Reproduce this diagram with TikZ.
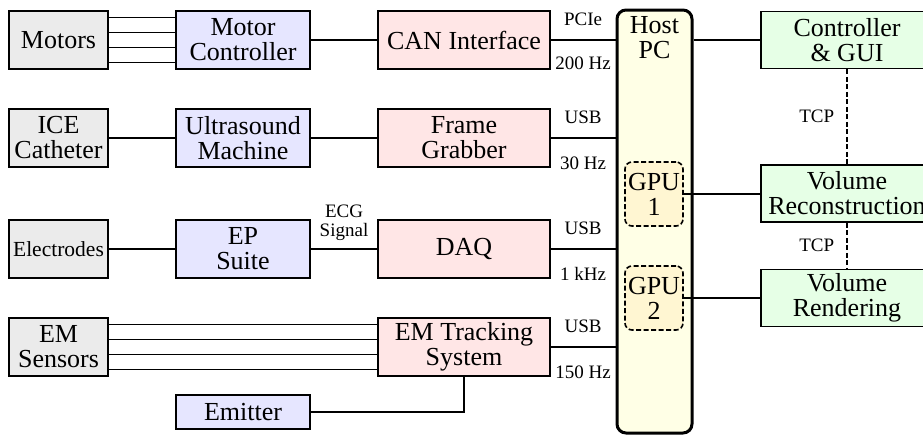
\documentclass[tikz,border=0pt]{standalone}
\usepackage{fontspec}
\setmainfont{Liberation Serif}
\usetikzlibrary{positioning}
\definecolor{devgray}{HTML}{EBEBEB}
\definecolor{ctlblue}{HTML}{E6E6FF}
\definecolor{iopink}{HTML}{FFE6E6}
\definecolor{swgreen}{HTML}{E6FFE6}
\definecolor{pcyellow}{HTML}{FFFFE6}
\definecolor{gpuyellow}{HTML}{FFF6D2}
\tikzset{
	blk/.style = {draw=black, line width=1.6pt, inner sep=0pt, align=center,
		font=\fontsize{26}{25}\selectfont},
	blk_dev/.style = {blk, fill=devgray, minimum width=99pt, minimum height=58pt},% sensors etc.
	blk_ctl/.style = {blk, fill=ctlblue, minimum width=134pt, minimum height=58pt},% vendor hardware
	blk_io/.style = {blk, fill=iopink, minimum width=172pt, minimum height=58pt},% acquisition
	blk_sw/.style = {blk, fill=swgreen, minimum width=172pt, minimum height=57pt},% software modules
	blk_gpu/.style = {blk, dash pattern=on 5pt off 2.5pt, rounded corners=7pt,
		fill=gpuyellow, minimum width=58pt, minimum height=64pt},
	lbl/.style = {font=\fontsize{19}{18.5}\selectfont, inner sep=0pt, align=center},
	wire/.style = {line width=1.6pt},
	tcp/.style = {wire, dash pattern=on 5pt off 2.5pt}
}

\begin{document}
\begin{tikzpicture}[x=1pt,y=-1pt]
	\clip (0,0) rectangle (923,434);
	% host pc
	\node [draw=black, line width=3pt, rounded corners=9pt, fill=pcyellow,
		minimum width=75pt, minimum height=423pt, inner sep=0pt] (host) at (654.5,221.5) {};
	\node [blk, draw=none, anchor=north] (hostname) at (654.5,16) {Host\\PC};
	\node [blk_gpu] (gpu1) at (654,194) {GPU\\1};
	\node [blk_gpu] (gpu2) at (654,298) {GPU\\2};
	% row 1
	\node [blk_dev] (motors) at (58.5,40) {Motors};
	\node [blk_ctl] (motorctl) at (243,40) {Motor\\Controller};
	\node [blk_io] (can) at (464,40) {CAN Interface};
	\node [blk_sw] (ctlgui) at (847,40) {Controller\\\& GUI};
	% row 2
	\node [blk_dev] (ice) at (58.5,138) {ICE\\Catheter};
	\node [blk_ctl] (usmachine) at (243,138) {Ultrasound\\Machine};
	\node [blk_io] (grabber) at (464,138) {Frame\\Grabber};
	\node [blk_sw] (volrec) at (847,193.5) {Volume\\Reconstruction};
	% row 3
	\node [blk_dev, font=\fontsize{21.5}{21}\selectfont] (electrodes) at (58.5,249) {Electrodes};
	\node [blk_ctl] (epsuite) at (243,249) {EP\\Suite};
	\node [blk_io] (daq) at (464,249) {DAQ};
	\node [blk_sw] (volrend) at (847,298) {Volume\\Rendering};
	% row 4
	\node [blk_dev] (emsensors) at (58.5,347) {EM\\Sensors};
	\node [blk_io] (emts) at (464,347) {EM Tracking\\System};
	\node [blk_ctl, minimum height=34pt] (emitter) at (243,412) {Emitter};

	% bundles of cables
	\foreach \dy in {-22.5,-7.5,7.5,22.5} {
		\draw [wire] ([yshift=\dy pt]motors.east) -- ([yshift=\dy pt]motorctl.west);
		\draw [wire] ([yshift=\dy pt]emsensors.east) -- ([yshift=\dy pt]emts.west);
	}
	\draw [wire] (motorctl) -- (can);
	\draw [wire] (ice) -- (usmachine);
	\draw [wire] (usmachine) -- (grabber);
	\draw [wire] (electrodes) -- (epsuite);
	\draw [wire] (epsuite) -- node [lbl, above=8pt] {ECG\\Signal} (daq);
	\draw [wire] (emitter.east) -| (emts.south);

	% links into the host
	\draw [wire] (can.east) -- node [lbl, above=14pt] {PCIe} node [lbl, below=16pt] {200 Hz} (can.east -| host.west);
	\draw [wire] (grabber.east) -- node [lbl, above=14pt] {USB} node [lbl, below=18pt] {30 Hz} (grabber.east -| host.west);
	\draw [wire] (daq.east) -- node [lbl, above=14pt] {USB} node [lbl, below=18pt] {1 kHz} (daq.east -| host.west);
	\draw [wire] (emts.east) -- node [lbl, above=14pt] {USB} node [lbl, below=18pt] {150 Hz} (emts.east -| host.west);

	% host to software
	\draw [wire] (host.east |- ctlgui.west) -- (ctlgui.west);
	\draw [wire] (gpu1.east) -- (gpu1.east -| volrec.west);
	\draw [wire] (gpu2.east) -- (gpu2.east -| volrend.west);
	\draw [tcp] (ctlgui.south) -- node [lbl, left=12pt] {TCP} (volrec.north);
	\draw [tcp] (volrec.south) -- node [lbl, left=12pt] {TCP} (volrend.north);
\end{tikzpicture}
\end{document}
